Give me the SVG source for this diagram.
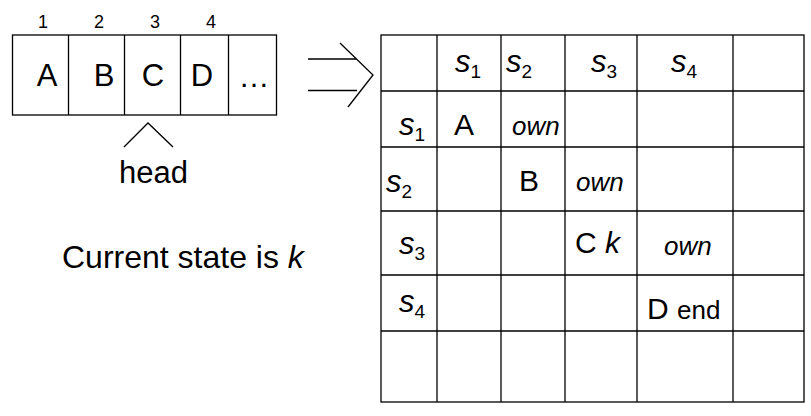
<svg xmlns="http://www.w3.org/2000/svg" width="811" height="416" viewBox="0 0 811 416">
<style>
text{font-family:"Liberation Sans",Arial,sans-serif;fill:#000}
.ln{stroke:#000;stroke-width:1.3;fill:none}
.big{font-size:31px}
.num{font-size:18px;text-anchor:middle}
.s{font-size:31px;font-style:italic}
.sub{font-size:19px;font-style:normal}
.own{font-size:26px;font-style:italic}
.cell{font-size:30px}
.mid{text-anchor:middle}
</style>
<rect width="811" height="416" fill="#fff"/>
<g id="tape">
<rect class="ln" x="12.5" y="35" width="264" height="80"/>
<path class="ln" d="M68.5 35V115M124.5 35V115M180.5 35V115M228.5 35V115"/>
<text class="num" x="43" y="28">1</text>
<text class="num" x="99" y="28">2</text>
<text class="num" x="155" y="28">3</text>
<text class="num" x="211" y="28">4</text>
<text class="big mid" x="47" y="86">A</text>
<text class="big mid" x="104" y="86">B</text>
<text class="big mid" x="153" y="86">C</text>
<text class="big mid" x="202" y="86">D</text>
<text class="big mid" x="254" y="87">…</text>
</g>
<g id="head">
<text class="big mid" x="153.5" y="183">head</text>
</g>
<g id="state">
<text x="62" y="268" style="font-size:32px">Current state is <tspan font-style="italic">k</tspan></text>
</g>
<g id="connectors">
<path class="ln" d="M124 147L148 123L173 147"/>
<path class="ln" d="M308 59H357M308 90.5H357M340 43L373 75L348 107"/>
</g>
<g id="table">
<rect class="ln" x="381" y="35" width="423" height="367"/>
<path class="ln" d="M437 35V402M501 35V402M565 35V402M637 35V402M733 35V402"/>
<path class="ln" d="M381 91H804M381 147H804M381 211H804M381 275H804M381 331H804"/>
<text class="s" x="455" y="71.5">s<tspan class="sub" dy="6">1</tspan></text>
<text class="s" x="506" y="71.5">s<tspan class="sub" dy="6">2</tspan></text>
<text class="s" x="591" y="71.5">s<tspan class="sub" dy="6">3</tspan></text>
<text class="s" x="671" y="71.5">s<tspan class="sub" dy="6">4</tspan></text>
<text class="s" x="399" y="135">s<tspan class="sub" dy="6">1</tspan></text>
<text class="s" x="386" y="191.5">s<tspan class="sub" dy="6">2</tspan></text>
<text class="s" x="399" y="254">s<tspan class="sub" dy="6">3</tspan></text>
<text class="s" x="399" y="311.5">s<tspan class="sub" dy="6">4</tspan></text>
<text class="cell" x="454" y="135">A</text>
<text class="own" x="512" y="135">own</text>
<text class="cell" x="519" y="190.5">B</text>
<text class="own" x="576" y="190.5">own</text>
<text class="cell" x="575" y="253">C <tspan font-style="italic">k</tspan></text>
<text class="own" x="664" y="255">own</text>
<text class="cell" x="647" y="319">D <tspan style="font-size:26px">end</tspan></text>
</g>
</svg>
